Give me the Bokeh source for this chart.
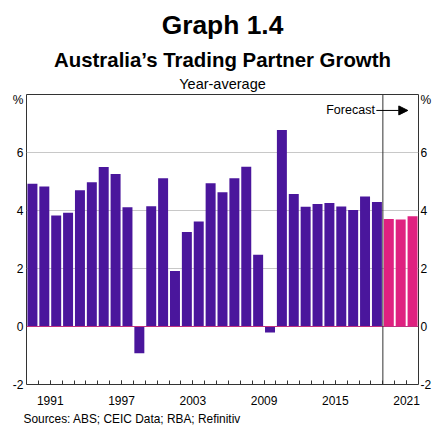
import numpy as np
from bokeh.plotting import figure
from bokeh.models import (LinearAxis, FixedTicker, Label, Span, Arrow, NormalHead, Range1d, Title)
from bokeh.embed import file_html
from bokeh.resources import INLINE

# ---- data ----
hist_years = list(range(1989, 2019))
hist_growth = [4.92, 4.83, 3.83, 3.92, 4.70, 4.97, 5.50, 5.26, 4.11, -0.92,
               4.15, 5.11, 1.91, 3.26, 3.62, 4.94, 4.63, 5.11, 5.51, 2.47,
               -0.21, 6.78, 4.57, 4.13, 4.22, 4.26, 4.14, 4.02, 4.48, 4.29]
fc_years = [2019, 2020, 2021]
fc_growth = [3.71, 3.69, 3.80]
label_years = [1991, 1997, 2003, 2009, 2015, 2021]
y_ticks = [-2, 0, 2, 4, 6]
y_tick_labels = ["-2", "0", "2", "4", "6"]
unit_tick = 7.8
forecast_start = 2019

FONT = "Liberation Sans"
PURPLE = "#4a169c"
PINK = "#df2180"

x0, x1 = hist_years[0], fc_years[-1] + 1
ylo, yhi = -2, 8

p = figure(width=434, height=428, output_backend="svg", toolbar_location=None,
           x_range=Range1d(x0, x1), y_range=Range1d(ylo, yhi),
           min_border_left=26, min_border_right=13, min_border_top=94, min_border_bottom=44,
           background_fill_color="white", border_fill_color="white")
p.outline_line_color = "#333333"
p.outline_line_width = 1

# grid
p.xgrid.visible = False
p.ygrid.ticker = FixedTicker(ticks=[2, 4, 6])
p.ygrid.grid_line_color = "#c8c8c8"
p.ygrid.grid_line_width = 1

# bars
p.vbar(x=np.array(hist_years) + 0.5, top=hist_growth, bottom=0, width=0.84,
       fill_color=PURPLE, line_color=None)
p.vbar(x=np.array(fc_years) + 0.5, top=fc_growth, bottom=0, width=0.84,
       fill_color=PINK, line_color=None)

p.add_layout(Span(location=0, dimension="width", line_color="#c0307f", line_width=1))
p.add_layout(Span(location=forecast_start, dimension="height", line_color="#333333", line_width=1))

# axes
def style_y(ax, standoff):
    ax.ticker = FixedTicker(ticks=y_ticks + [unit_tick])
    overrides = dict(zip(y_ticks, y_tick_labels))
    overrides[unit_tick] = "%"
    ax.major_label_overrides = overrides
    ax.axis_line_color = None
    ax.major_tick_line_color = None
    ax.minor_tick_line_color = None
    ax.major_tick_out = 0
    ax.major_tick_in = 0
    ax.minor_tick_out = 0
    ax.minor_tick_in = 0
    ax.major_label_standoff = standoff
    ax.major_label_text_font = FONT
    ax.major_label_text_font_size = "12px"
    ax.major_label_text_color = "black"

style_y(p.yaxis[0], 3)
ra = LinearAxis()
style_y(ra, 2)
p.add_layout(ra, "right")

xa = p.xaxis[0]
xa.ticker = FixedTicker(ticks=label_years, minor_ticks=list(range(x0 + 1, x1)))
xa.axis_line_color = None
xa.major_tick_in = 4
xa.major_tick_out = 0
xa.minor_tick_in = 4
xa.minor_tick_out = 0
xa.major_tick_line_color = "#333333"
xa.minor_tick_line_color = "#333333"
xa.major_label_standoff = 11
xa.major_label_text_font = FONT
xa.major_label_text_font_size = "12px"
xa.major_label_text_color = "black"

# titles (first added = closest to the plot)
p.add_layout(Title(text="Year-average", align="center", standoff=6, text_font=FONT,
                   text_font_size="14.5px", text_font_style="normal", text_color="black"), "above")
p.add_layout(Title(text="Australia\u2019s Trading Partner Growth", align="center", standoff=0,
                   text_font=FONT, text_font_size="20.4px", text_font_style="bold",
                   text_color="black"), "above")
p.add_layout(Title(text="Graph 1.4", align="center", standoff=13, text_font=FONT,
                   text_font_size="26.4px", text_font_style="bold", text_color="black"), "above")

# sources
p.add_layout(Title(text="Sources: ABS; CEIC Data; RBA; Refinitiv", align="left", offset=-3,
                   standoff=5, text_font=FONT, text_font_size="11.9px", text_font_style="normal",
                   text_color="black"), "below")

# forecast annotation
p.add_layout(Label(x=forecast_start, y=7.45, x_offset=-8, text="Forecast", text_align="right",
                   text_baseline="middle", text_font=FONT, text_font_size="12.5px",
                   text_color="black"))
p.add_layout(Arrow(end=NormalHead(size=9, fill_color="black", line_color="black"),
                   x_start=forecast_start - 0.55, y_start=7.45,
                   x_end=forecast_start + 2.1, y_end=7.45,
                   line_color="black", line_width=1))

open("out.html", "w").write(file_html(p, INLINE))
